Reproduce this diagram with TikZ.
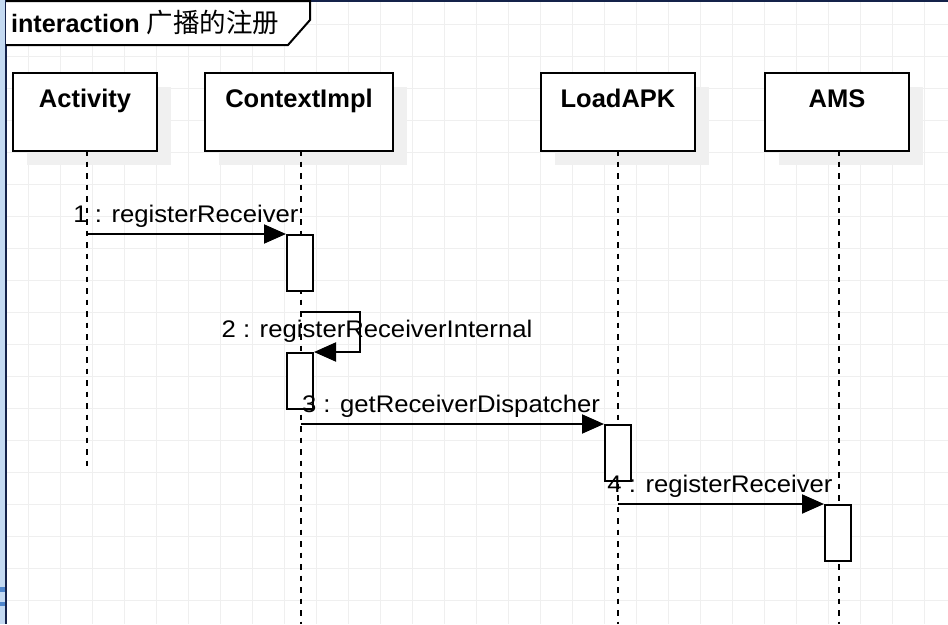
\documentclass[tikz,border=0pt]{standalone}
\usepackage{fontspec}
\setmainfont{Liberation Sans}
\newfontfamily\cjk{Noto Sans CJK SC}
\newfontfamily\lblfont[FakeStretch=1.07]{Liberation Sans}
\usetikzlibrary{arrows.meta,shadows}
\definecolor{gridgray}{HTML}{EFEFEF}
\definecolor{shadowgray}{HTML}{F0F0F0}
\definecolor{framenavy}{HTML}{14224A}
\definecolor{selblue}{HTML}{C4DAF2}
\definecolor{handleblue}{HTML}{4F86CC}
\begin{document}
\begin{tikzpicture}[x=1pt,y=-1pt,line width=2pt,
  headbox/.style={draw,fill=white,anchor=north west,inner sep=0pt,
    minimum width=#1,text height=34pt,text depth=44pt,
    font=\fontsize{25.5pt}{28pt}\selectfont\bfseries,
    drop shadow={shadow xshift=14pt,shadow yshift=-14pt,fill=shadowgray,opacity=1}},
  actbox/.style={draw,fill=white,anchor=north west,inner sep=0pt,
    minimum width=26pt,minimum height=56pt},
  lifeline/.style={dash pattern=on 5.5pt off 6pt},
  msg/.style={-{Triangle[length=22pt,width=19pt]}},
  lbl/.style={anchor=base,inner sep=0pt,font=\lblfont\fontsize{24pt}{28pt}\selectfont}]
\useasboundingbox (0,0) rectangle (948,624);
% grid
\foreach \gx in {28,60,...,924} \draw[gridgray,line width=1pt] (\gx,0) -- (\gx,624);
\foreach \gy in {24,56,...,600} \draw[gridgray,line width=1pt] (0,\gy) -- (948,\gy);
% frame edges
\fill[selblue] (0,0) rectangle (5,624);
\fill[handleblue] (0,587) rectangle (5,592);
\fill[handleblue] (0,602) rectangle (5,606);
\draw[framenavy] (6,1) -- (948,1);
\draw[framenavy] (6,0) -- (6,624);
% title tab
\draw[fill=white] (6,1) -- (310,1) -- (310,20) -- (288,45) -- (6,45);
\node[anchor=base west,inner sep=0pt] (title) at (10,32)
  {\fontsize{25.2pt}{28pt}\selectfont\textbf{interaction} {\cjk\fontsize{26.5pt}{28pt}\selectfont 广播的注册}};
% lifeline heads
\node[headbox=144pt] (activity) at (12,72) {Activity};
\node[headbox=188pt] (context) at (204,72) {ContextImpl};
\node[headbox=154pt] (loadapk) at (540,72) {LoadAPK};
\node[headbox=144pt] (ams) at (764,72) {AMS};
% lifelines
\coordinate (l1top) at (87,150);  \coordinate (l1bot) at (87,470);
\coordinate (l2top) at (301,150); \coordinate (l2bot) at (301,624);
\coordinate (l3top) at (618,150); \coordinate (l3bot) at (618,624);
\coordinate (l4top) at (839,150); \coordinate (l4bot) at (839,624);
\draw[lifeline] (l1top) -- (l1bot);
\draw[lifeline] (l2top) -- (l2bot);
\draw[lifeline] (l3top) -- (l3bot);
\draw[lifeline] (l4top) -- (l4bot);
% activations
\node[actbox] (b1) at (286,234) {};
\node[actbox] (b2) at (286,352) {};
\node[actbox] (b3) at (604,424) {};
\node[actbox] (b4) at (824,504) {};
% messages
\coordinate (m1s) at (87,234);
\coordinate (m2s) at (301,312);
\coordinate (m3s) at (301,424);
\coordinate (m4s) at (618,504);
\draw[msg] (m1s) -- (b1.north west);
\draw[msg] (m2s) -- (360,312) |- (b2.north east);
\draw[msg] (m3s) -- (b3.north west);
\draw[msg] (m4s) -- (b4.north west);
% labels
\node[lbl] (t1) at (186,222) {1 : registerReceiver};
\node[lbl] (t2) at (377,337) {2 : registerReceiverInternal};
\node[lbl] (t3) at (451,412) {3 : getReceiverDispatcher};
\node[lbl] (t4) at (720,492) {4 : registerReceiver};
\end{tikzpicture}
\end{document}
